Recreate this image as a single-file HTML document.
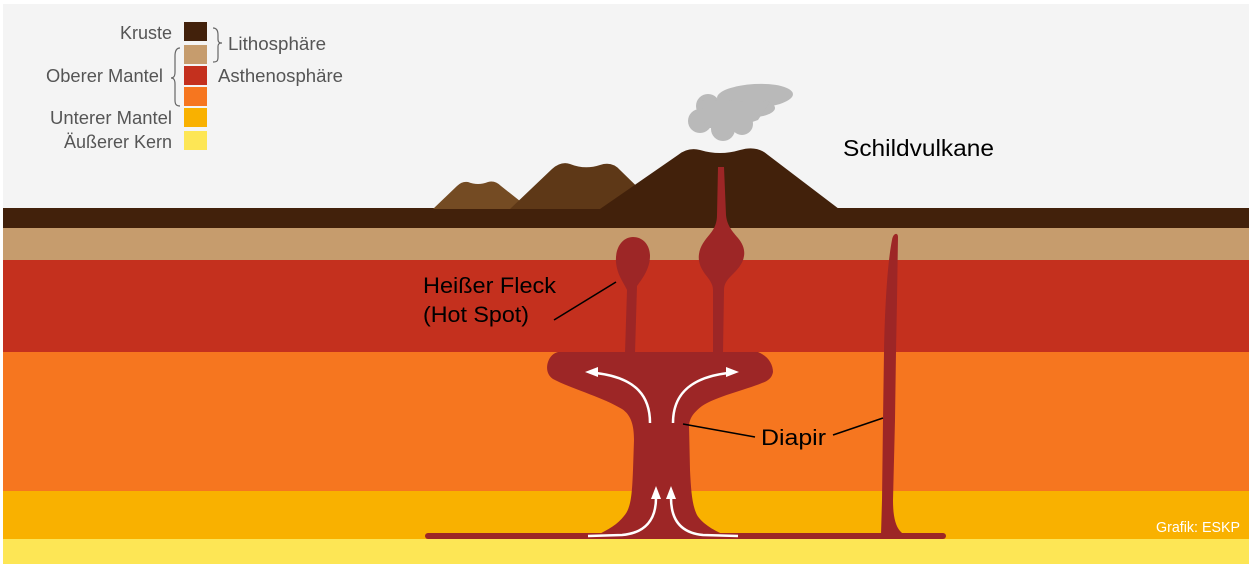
<!DOCTYPE html>
<html>
<head>
<meta charset="utf-8">
<style>
html,body{margin:0;padding:0;background:#fff;}
svg{display:block;}
text{font-family:"Liberation Sans",Arial,sans-serif;}
</style>
</head>
<body>
<svg width="1250" height="571" viewBox="0 0 1250 571" xmlns="http://www.w3.org/2000/svg">
  <!-- background panel -->
  <rect x="0" y="0" width="1250" height="571" fill="#ffffff"/>
  <rect x="3" y="4" width="1246" height="560" fill="#f4f4f4"/>

  <!-- layers -->
  <rect x="3" y="208" width="1246" height="21" fill="#42210b"/>
  <rect x="3" y="228" width="1246" height="32" fill="#c69c6d"/>
  <rect x="3" y="260" width="1246" height="92" fill="#c4301e"/>
  <rect x="3" y="352" width="1246" height="139" fill="#f6761f"/>
  <rect x="3" y="491" width="1246" height="48" fill="#f9b100"/>
  <rect x="3" y="539" width="1246" height="25" fill="#fde655"/>

  <!-- hills -->
  <path d="M433,209 L457,186 Q462,181 468,182 Q478,186 488,182 Q495,180 501,186 L530,209 Z" fill="#744b23"/>
  <path d="M510,209 L552,169 Q561,161 570,164 Q585,170 600,165 Q612,161 620,170 L660,209 Z" fill="#5e3817"/>
  <path d="M600,209 L678,155 Q688,147 700,150 Q720,156 740,150 Q757,145 768,155 L839,209 Z" fill="#42210b"/>

  <!-- cloud -->
  <g fill="#b9b9b9">
    <ellipse cx="755" cy="96" rx="38" ry="12" transform="rotate(-3 755 96)"/>
    <ellipse cx="745" cy="108" rx="30" ry="10"/>
    <circle cx="708" cy="106" r="12"/>
    <circle cx="700" cy="121" r="12"/>
    <circle cx="723" cy="129" r="12"/>
    <circle cx="742" cy="124" r="11"/>
    <polygon points="702,100 770,102 758,120 735,128 705,128"/>
  </g>

  <!-- magma: volcano conduit and bulb -->
  <path d="M718,167 L724,167 L726,215 C727,226 733,232 738,238 C743,244 745,250 744,256 C743,264 737,270 731,276 C727,280 724,284 724,290 L723,353 L713,353 L713,290 C713,284 709,279 705,274 C700,267 698,261 699,254 C700,246 705,240 710,234 C715,228 717,222 717,215 Z" fill="#9d2626"/>
  <!-- left hot spot -->
  <path d="M625,353 L627,290 C624,283 617,275 616,262 C615,247 623,237 633,237 C643,237 650,245 650,256 C650,268 643,278 637,286 L635,353 Z" fill="#9d2626"/>
  <!-- diapir head + stem -->
  <path d="M558,352 L758,352 C768,356 773,364 773,372 C772,378 768,381 762,383 C745,390 715,397 702,406 C693,413 690,418 689,425 L690,470 C691,490 692,505 697,515 C701,522 712,530 725,535 L597,535 C608,530 618,524 624,516 C631,508 632,495 633,470 L634,440 C634,425 631,415 622,409 C602,397 572,389 553,379 C547,375 546,368 548,362 C550,356 554,353 558,352 Z" fill="#9d2626"/>
  <!-- base bar -->
  <rect x="425" y="533" width="521" height="6" rx="3" fill="#9d2626"/>
  <!-- right plume -->
  <path d="M881,535 L882,500 L883,420 L884,352 C885,300 888,260 892,240 C893,233 898,232 898,237 L897,300 L896,352 L895,420 L893,500 C893,515 895,525 900,531 L904,535 Z" fill="#9d2626"/>

  <!-- arrows -->
  <g fill="none" stroke="#ffffff" stroke-width="2.5">
    <path d="M650,423 C650,398 638,378 596,373"/>
    <path d="M673,423 C673,398 686,378 728,373"/>
    <path d="M588,536 L622,535 C645,533 656,520 656,498"/>
    <path d="M738,536 L703,535 C681,533 671,520 671,498"/>
  </g>
  <g fill="#ffffff">
    <polygon points="585,372 598,367 598,377"/>
    <polygon points="739,372 726,367 726,377"/>
    <polygon points="656,486 651,499 661,499"/>
    <polygon points="671,486 666,499 676,499"/>
  </g>

  <!-- leader lines -->
  <g stroke="#000" stroke-width="1.6" fill="none">
    <line x1="554" y1="320" x2="616" y2="282"/>
    <line x1="683" y1="424" x2="755" y2="437"/>
    <line x1="833" y1="435" x2="883" y2="418"/>
  </g>

  <!-- labels -->
  <text x="423" y="293" font-size="22" fill="#000" textLength="133" lengthAdjust="spacingAndGlyphs">Heißer Fleck</text>
  <text x="423" y="322" font-size="22" fill="#000" textLength="106" lengthAdjust="spacingAndGlyphs">(Hot Spot)</text>
  <text x="761" y="445" font-size="22" fill="#000" textLength="65" lengthAdjust="spacingAndGlyphs">Diapir</text>
  <text x="843" y="156" font-size="23" fill="#000" textLength="151" lengthAdjust="spacingAndGlyphs">Schildvulkane</text>
  <text x="1156" y="532" font-size="14.5" fill="#ffffff" textLength="84" lengthAdjust="spacingAndGlyphs">Grafik: ESKP</text>

  <!-- legend -->
  <rect x="184" y="22" width="23" height="19" fill="#42210b"/>
  <rect x="184" y="45" width="23" height="19" fill="#c69c6d"/>
  <rect x="184" y="66" width="23" height="19" fill="#c4301e"/>
  <rect x="184" y="87" width="23" height="19" fill="#f6761f"/>
  <rect x="184" y="108" width="23" height="19" fill="#f9b100"/>
  <rect x="184" y="131" width="23" height="19" fill="#fde655"/>

  <g fill="none" stroke="#666" stroke-width="1.2">
    <path d="M213,28 C217,28 218,31 218,35 L218,39 C218,42 219,43 222,43 C219,43 218,44 218,47 L218,57 C218,61 217,62 213,62"/>
    <path d="M180,48 C176,48 175,52 175,56 L175,72 C175,76 174,78 171,78 C174,78 175,80 175,84 L175,100 C175,104 176,106 180,106"/>
  </g>

  <g fill="#555" font-size="18">
    <text x="120" y="39" textLength="52" lengthAdjust="spacingAndGlyphs">Kruste</text>
    <text x="228" y="50" textLength="98" lengthAdjust="spacingAndGlyphs">Lithosphäre</text>
    <text x="46" y="82" textLength="117" lengthAdjust="spacingAndGlyphs">Oberer Mantel</text>
    <text x="218" y="82" textLength="125" lengthAdjust="spacingAndGlyphs">Asthenosphäre</text>
    <text x="50" y="124" textLength="122" lengthAdjust="spacingAndGlyphs">Unterer Mantel</text>
    <text x="64" y="148" textLength="108" lengthAdjust="spacingAndGlyphs">Äußerer Kern</text>
  </g>
</svg>
</body>
</html>
